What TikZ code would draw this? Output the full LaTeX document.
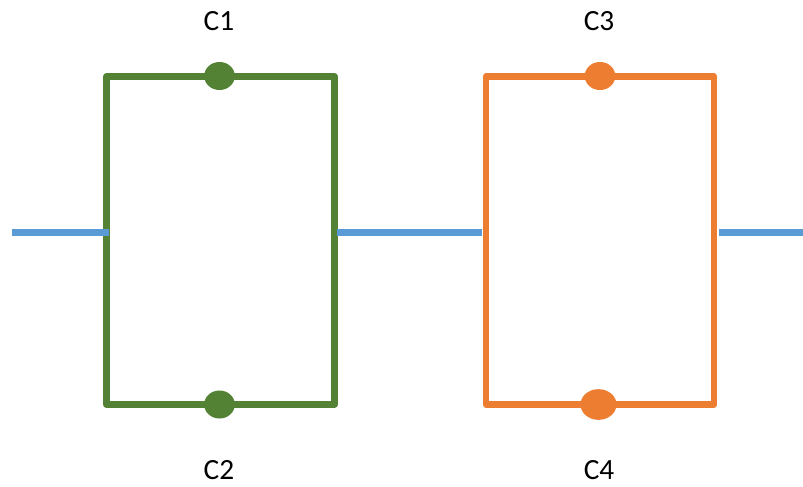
\documentclass[tikz,border=0pt]{standalone}
\usetikzlibrary{shapes.geometric}
\usepackage{fontspec}
\setmainfont{Carlito}
\definecolor{grn}{HTML}{548235}
\definecolor{org}{HTML}{ED7D31}
\definecolor{blu}{HTML}{5B9BD5}
\tikzset{
  px/.style={x=0.75pt,y=-0.75pt},
  gbox/.style={draw=grn,line width=4.9pt,line join=round,minimum width=171pt,minimum height=246pt,inner sep=0pt,outer sep=0pt,rectangle},
  obox/.style={draw=org,line width=4.9pt,line join=round,minimum width=171pt,minimum height=246pt,inner sep=0pt,outer sep=0pt,rectangle},
  wire/.style={draw=blu,line width=5pt},
  lbl/.style={font=\fontsize{22pt}{25pt}\selectfont,text=black,inner sep=0pt},
  gdot/.style={ellipse,fill=grn,minimum width=23pt,minimum height=21pt,inner sep=0pt},
  odot/.style={ellipse,fill=org,minimum width=23pt,minimum height=21pt,inner sep=0pt},
  odotb/.style={ellipse,fill=org,minimum width=27pt,minimum height=23pt,inner sep=0pt}
}
\begin{document}
\begin{tikzpicture}[px]
\useasboundingbox (0,0) rectangle (803,486);
\fill[white] (0,0) rectangle (803,486);
\node[gbox] (A) at (220.5,240.5) {};
\node[obox] (B) at (600,240.5) {};
\coordinate (L) at (12,232.5);
\coordinate (R) at (803,232.5);
\coordinate (AW) at ([xshift=1.5pt]A.west |- L);
\coordinate (AE) at ([xshift=2pt]A.east |- L);
\coordinate (BW) at ([xshift=-3pt]B.west |- L);
\coordinate (BE) at ([xshift=3.5pt]B.east |- L);
\draw[wire] (L) -- (AW);
\draw[wire] (AE) -- (BW);
\draw[wire] (BE) -- (R);
\node[gdot] (d1) at (219.5,76) {};
\node[gdot] (d2) at (219.5,404.5) {};
\node[odot] (d3) at (600,76) {};
\node[odotb] (d4) at (598.5,404.5) {};
\node[lbl] (c1) at (219,21.5) {C1};
\node[lbl] (c2) at (219,470) {C2};
\node[lbl] (c3) at (599,21.5) {C3};
\node[lbl] (c4) at (599,470) {C4};
\end{tikzpicture}
\end{document}
